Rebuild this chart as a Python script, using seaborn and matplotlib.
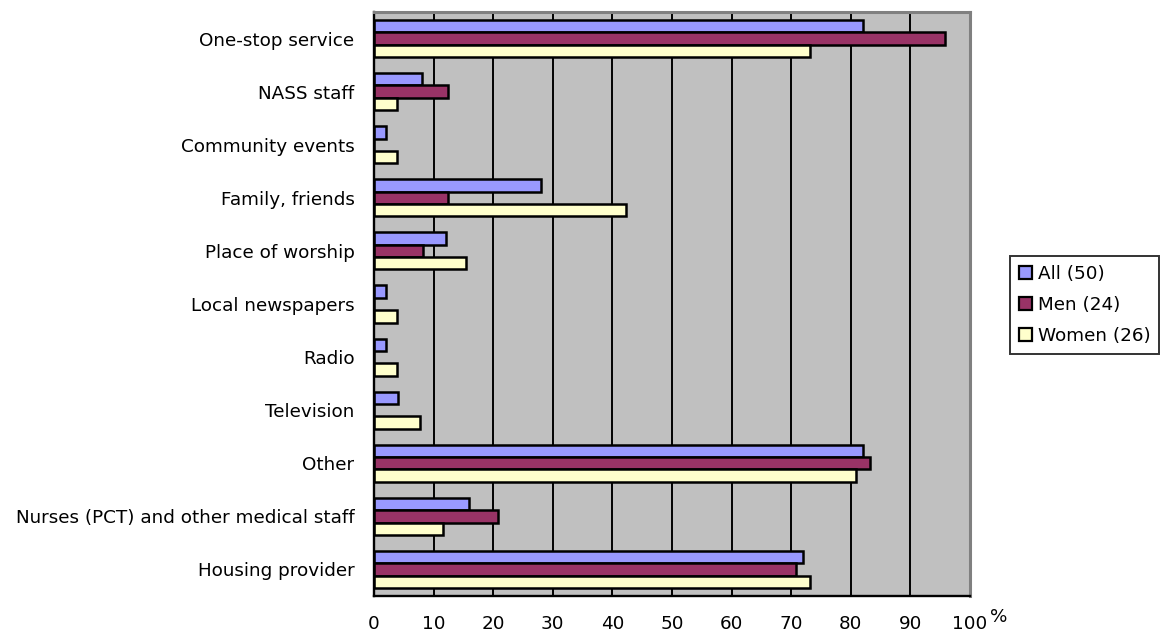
import matplotlib
matplotlib.use("Agg")
import matplotlib.pyplot as plt
import seaborn as sns
import pandas as pd
import numpy as np
from matplotlib.patches import Patch

# Where people heard about the service, by respondent group (%)
categories = [
    "One-stop service",
    "NASS staff",
    "Community events",
    "Family, friends",
    "Place of worship",
    "Local newspapers",
    "Radio",
    "Television",
    "Other",
    "Nurses (PCT) and other medical staff",
    "Housing provider",
]
all_pct = [82, 8, 2, 28, 12, 2, 2, 4, 82, 16, 72]
men_pct = [95.8, 12.5, 0, 12.5, 8.3, 0, 0, 0, 83.3, 20.8, 70.8]
women_pct = [73.1, 3.8, 3.8, 42.3, 15.4, 3.8, 3.8, 7.7, 80.8, 11.5, 73.1]
series = ["All (50)", "Men (24)", "Women (26)"]
colors = ["#9999FF", "#993366", "#FFFFCC"]
x_ticks = list(range(0, 101, 10))

df = pd.DataFrame({
    "source": categories * 3,
    "group": np.repeat(series, len(categories)),
    "pct": all_pct + men_pct + women_pct,
})

sns.set_style("white")
plt.rcParams["font.family"] = ["DejaVu Sans"]
plt.rcParams["font.size"] = 13.2
plt.rcParams["text.color"] = "black"
plt.rcParams["xtick.color"] = "black"
plt.rcParams["ytick.color"] = "black"
plt.rcParams["xtick.labelcolor"] = "black"
plt.rcParams["ytick.labelcolor"] = "black"

fig = plt.figure(figsize=(11.71, 6.37), dpi=100)
ax = fig.add_axes([374 / 1171, 1 - 596 / 637, 596 / 1171, 584 / 637])

sns.barplot(
    data=df, y="source", x="pct", hue="group",
    order=categories, hue_order=series, palette=colors,
    orient="h", width=0.7, saturation=1,
    edgecolor="black", linewidth=1.8, ax=ax, legend=False,
)

ax.set_facecolor("#C0C0C0")
ax.set_xlim(0, 100)
ax.set_ylim(len(categories) - 0.5, -0.5)
ax.set_xlabel("")
ax.set_ylabel("")

# vertical gridlines behind the bars
ax.set_axisbelow(True)
ax.set_xticks(x_ticks)
ax.xaxis.grid(True, color="black", linewidth=1.4)
ax.yaxis.grid(False)

ax.tick_params(axis="x", direction="out", length=6, width=1.5,
               pad=8, labelsize=13.2)
ax.tick_params(axis="y", which="major", length=0, pad=14, labelsize=13.2)
ax.set_yticks(np.arange(-0.5, len(categories), 1.0), minor=True)
ax.tick_params(axis="y", which="minor", direction="out", length=5,
               width=1.5)

for side in ("left", "bottom"):
    ax.spines[side].set_color("black")
    ax.spines[side].set_linewidth(1.7)
for side in ("top", "right"):
    ax.spines[side].set_color("#808080")
    ax.spines[side].set_linewidth(2.2)

# unit label beside the last tick, raised a little
ax.annotate("%", xy=(1, 0), xycoords="axes fraction",
            xytext=(21, -15), textcoords="offset points",
            ha="center", va="center", fontsize=13.2)

handles = [Patch(facecolor=c, edgecolor="black", linewidth=1.6, label=s)
           for s, c in zip(series, colors)]
leg = fig.legend(
    handles=handles, loc="upper left",
    bbox_to_anchor=(1010 / 1171, 1 - 256 / 637),
    frameon=True, fancybox=False, edgecolor="black",
    handlelength=0.7, handleheight=0.7, handletextpad=0.3,
    borderpad=0.5, labelspacing=0.7, borderaxespad=0, fontsize=13.2,
)
leg.get_frame().set_linewidth(1.4)

fig.savefig("out.png", dpi=100, facecolor="white")
